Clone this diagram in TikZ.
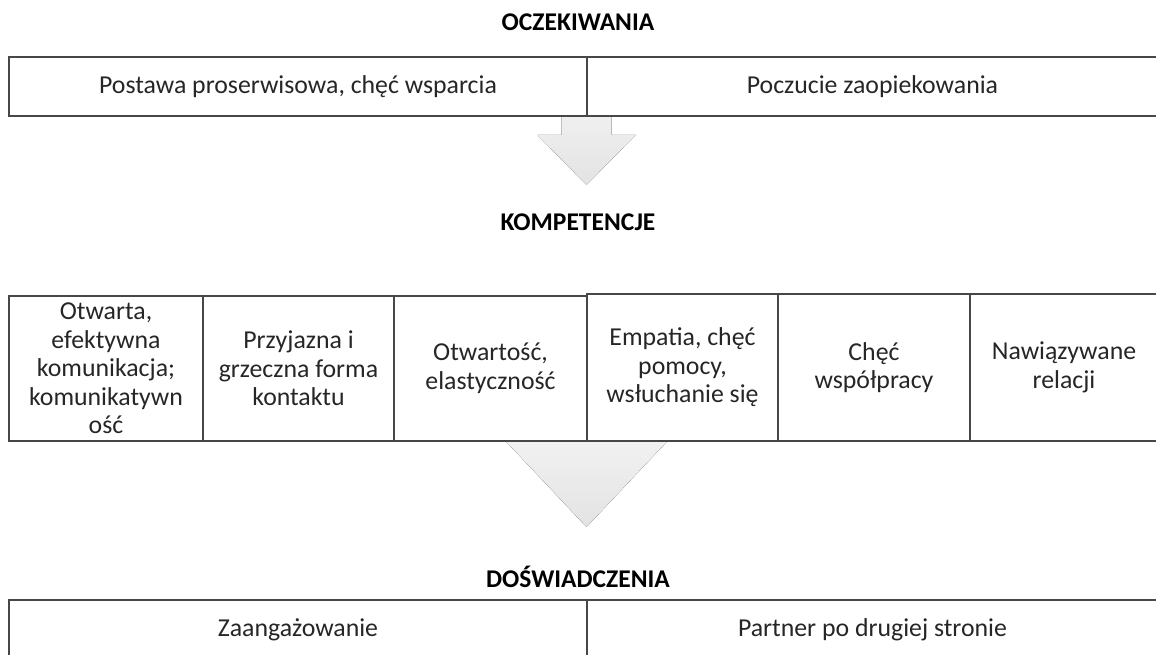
\documentclass[tikz,border=0pt]{standalone}
\usepackage{fontspec}
\setmainfont{Carlito}
\begin{document}
\begin{tikzpicture}[x=1pt,y=-1pt,
  cell/.style={draw=black!72,line width=1.3pt,fill=white,align=center,inner sep=0pt,text=black!85,font=\fontsize{25.8}{28.5}\selectfont},
  title/.style={font=\fontsize{25.5}{30}\selectfont\bfseries},
  flow/.style={top color=black!5,bottom color=black!11}]
\useasboundingbox (0,0) rectangle (1156,655);
\clip (0,0) rectangle (1156,655);
\fill[flow] (561.5,100)--(611.5,100)--(611.5,135)--(635.5,135)--(586.5,185)--(537.5,135)--(561.5,135)--cycle;
\fill[flow] (498,433)--(675,433)--(586.5,527)--cycle;
\node[title] (oczek) at (578,22) {OCZEKIWANIA};
\node[cell,minimum width=578pt,minimum height=59pt] (postawa) at (298,86.5) {Postawa proserwisowa, chęć wsparcia};
\node[cell,minimum width=571pt,minimum height=59pt] (poczucie) at (872.5,86.5) {Poczucie zaopiekowania};
\node[title] (kompet) at (578,222) {KOMPETENCJE};
\node[cell,minimum width=194pt,minimum height=145pt] (otwarta) at (106,368.5) {Otwarta,\\efektywna\\komunikacja;\\komunikatywn\\ość};
\node[cell,minimum width=191pt,minimum height=145pt] (przyjazna) at (298.5,368.5) {Przyjazna i\\grzeczna forma\\kontaktu};
\node[cell,minimum width=193pt,minimum height=145pt] (otwartosc) at (490.5,368.5) {Otwartość,\\elastyczność};
\node[cell,minimum width=191pt,minimum height=147pt] (empatia) at (682.5,367.5) {Empatia, chęć\\pomocy,\\wsłuchanie się};
\node[cell,minimum width=192pt,minimum height=147pt] (wspolpraca) at (874,367.5) {Chęć\\współpracy};
\node[cell,minimum width=188pt,minimum height=147pt] (relacje) at (1064,367.5) {Nawiązywane\\relacji};
\node[title] (doswiad) at (578,577) {DOŚWIADCZENIA};
\node[cell,minimum width=578pt,minimum height=60pt] (zaang) at (298,630) {Zaangażowanie};
\node[cell,minimum width=571pt,minimum height=60pt] (partner) at (872.5,630) {Partner po drugiej stronie};
\end{tikzpicture}
\end{document}
